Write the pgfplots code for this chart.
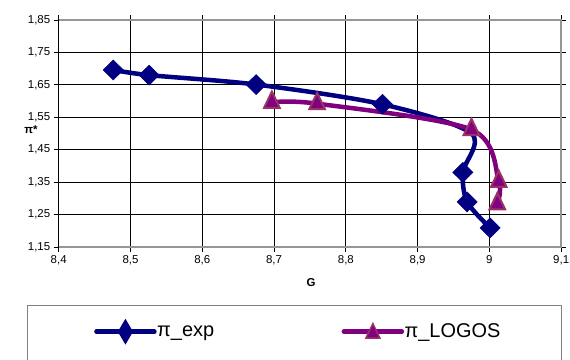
\documentclass[border=0pt]{standalone}
\usepackage{fontspec}
\setmainfont{Liberation Sans}
\setsansfont{Liberation Sans}
\usepackage{pgfplots}
\pgfplotsset{compat=1.18}
\definecolor{navyb}{RGB}{0,0,128}
\definecolor{purp}{RGB}{128,0,128}
\definecolor{pedge}{RGB}{153,51,102}
\definecolor{frm}{RGB}{150,150,150}
\begin{document}
\begin{tikzpicture}[x=1bp,y=1bp]
\useasboundingbox (0,0) rectangle (570,359);
\begin{axis}[
  at={(58.7bp,112bp)}, anchor=south west,
  scale only axis, width=502.5bp, height=227bp,
  xmin=8.4, xmax=9.1, ymin=1.15, ymax=1.85,
  xtick={8.4,8.5,...,9.1}, ytick={1.15,1.25,...,1.85},
  xticklabel style={/pgf/number format/.cd,fixed,precision=1,use comma},
  yticklabel style={/pgf/number format/.cd,fixed,fixed zerofill,precision=2,use comma},
  /pgf/number format/assume math mode=true,
  ticklabel style={font=\fontsize{11.5}{13}\selectfont},
  tick align=outside, major tick length=5bp,
  tick style={black, line width=0.8bp},
  grid=major, major grid style={black, line width=0.8bp},
  axis line style={draw=none},
  xlabel={\textbf{G}}, ylabel={\textbf{π*}},
  label style={font=\fontsize{11.5}{13}\selectfont},
  xlabel style={at={(axis description cs:0.502,-0.155)}, anchor=center},
  ylabel style={at={(axis description cs:-0.055,0.515)}, anchor=center, rotate=-90},
  clip=false,
  legend columns=2,
  legend style={draw=none, fill=none, at={(axis description cs:0.0702,-0.373)}, anchor=west,
    inner sep=0pt, font=\fontsize{20}{24}\selectfont,
    /tikz/every even column/.append style={column sep=127bp},
    nodes={inner sep=0.5bp}},
]
\draw[frm, line width=2bp] (rel axis cs:0,1) -- (rel axis cs:1,1) -- (rel axis cs:1,0) -- (rel axis cs:0,0);
\draw[black, line width=1.5bp] (rel axis cs:0,0) -- (rel axis cs:0,1);
\addplot[navyb, line width=4.5bp, smooth, mark=diamond*, mark size=10bp,
  mark indices={1,2,3,4,6,7,8},
  mark options={xscale=1.35, solid, fill=navyb, draw=navyb, line width=0.5bp},
  legend image code/.code={
    \draw[navyb, line width=4.5bp, line cap=round] (0bp,0bp) -- (58bp,0bp);
    \fill[navyb] (29bp,8.5bp) -- (34bp,0bp) -- (29bp,-8.5bp) -- (24bp,0bp) -- cycle;}]
  coordinates {(8.476,1.696) (8.526,1.680) (8.675,1.651) (8.851,1.590) (8.975,1.500) (8.963,1.380) (8.969,1.289) (9.001,1.209)};
\addlegendentry{π\_exp}
\addplot[purp, line width=4.5bp, smooth, mark=triangle*, mark size=9bp,
  mark options={yscale=1.2, solid, fill=purp, draw=pedge, line width=2bp},
  legend image code/.code={
    \draw[purp, line width=4.5bp, line cap=round] (0bp,0bp) -- (58bp,0bp);
    \filldraw[fill=purp, draw=pedge, line width=1.5bp] (29bp,8bp) -- (36bp,-6.5bp) -- (22bp,-6.5bp) -- cycle;}]
  coordinates {(8.697,1.596) (8.760,1.592) (8.975,1.512) (9.013,1.352) (9.011,1.283)};
\addlegendentry{π\_LOGOS}
\end{axis}
\draw[gray, line width=1bp] (27.7,-10) -- (27.7,54) -- (561.7,54) -- (561.7,-10);
\end{tikzpicture}
\end{document}
